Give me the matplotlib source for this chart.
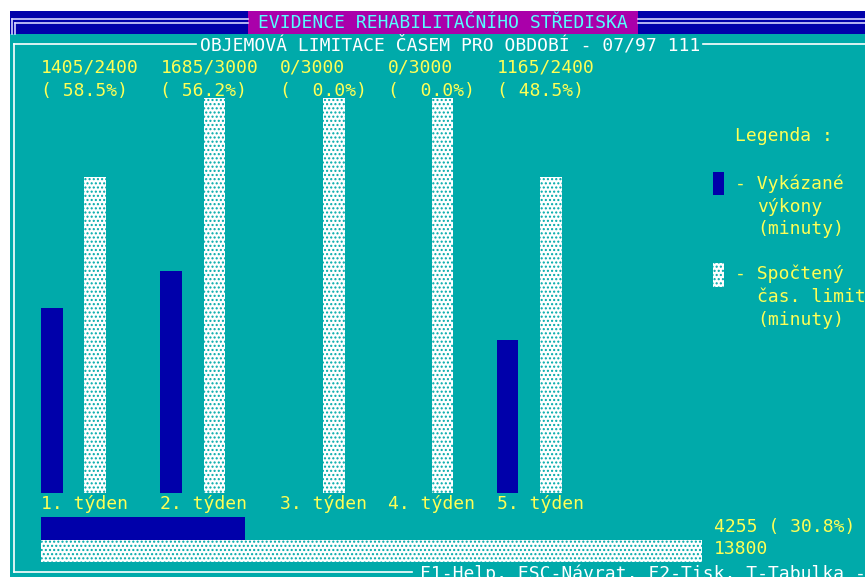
import matplotlib
matplotlib.use("Agg")
import matplotlib.pyplot as plt
from matplotlib.patches import Rectangle
from matplotlib.transforms import blended_transform_factory

# data
weeks = ["1. týden", "2. týden", "3. týden", "4. týden", "5. týden"]
done_min = [1405, 1685, 0, 0, 1165]      # vykázané výkony (minuty)
limit_min = [2400, 3000, 3000, 3000, 2400]  # spočtený čas. limit (minuty)

# text-mode layout (columns of the 80x25 screen)
group_cols = [0, 11, 22, 32, 42]

TEAL = "#00aaaa"
BLUE = "#0000aa"
MAGENTA = "#aa00aa"
YELLOW = "#ffff55"
CYAN = "#55ffff"
WHITE = "#ffffff"
FRAME = "#d4d4ff"

W, H = 865, 577
CW = 10.85     # char cell width in px
X0 = 41        # pixel x of column 0
BASE = 493     # bar baseline (px)
TOP = 98       # where 3000 min reaches (px)

FONT = dict(family="DejaVu Sans Mono", fontsize=13)

fig = plt.figure(figsize=(W / 100, H / 100), dpi=100, facecolor="white")

# background screen, pixel coordinates
bg = fig.add_axes([0, 0, 1, 1])
bg.set_xlim(0, W)
bg.set_ylim(H, 0)
bg.axis("off")

bg.add_patch(Rectangle((10, 11), W - 10, 23, color=BLUE, lw=0))
bg.add_patch(Rectangle((10, 34), W - 10, H - 34, color=TEAL, lw=0))
bg.add_patch(Rectangle((248, 11), 390, 23, color=MAGENTA, lw=0))

lw = 1.2
# double frame on the title row
bg.plot([12, 248], [19, 19], color=FRAME, lw=lw)
bg.plot([15, 248], [22.5, 22.5], color=FRAME, lw=lw)
bg.plot([638, W], [19, 19], color=FRAME, lw=lw)
bg.plot([638, W], [22.5, 22.5], color=FRAME, lw=lw)
bg.plot([12, 12], [19, 34], color=FRAME, lw=lw)
bg.plot([15, 15], [22.5, 34], color=FRAME, lw=lw)

# single frame of the window
bg.plot([14, 196], [44, 44], color=WHITE, lw=lw)
bg.plot([703, W], [44, 44], color=WHITE, lw=lw)
bg.plot([14, 14], [44, 572], color=WHITE, lw=lw)
bg.plot([14, 412], [572, 572], color=WHITE, lw=lw)

bg.text(443, 23, "EVIDENCE REHABILITAČNÍHO STŘEDISKA", color=CYAN,
        ha="center", va="center", **FONT)
bg.text(450, 45, "OBJEMOVÁ LIMITACE ČASEM PRO OBDOBÍ - 07/97 111", color=WHITE,
        ha="center", va="center", **FONT)
bg.text(420, 574, "F1-Help, ESC-Návrat, F2-Tisk, T-Tabulka -", color=WHITE,
        ha="left", va="center", **FONT)

# weekly bars, x in screen columns, y in minutes
ax = fig.add_axes([0, (H - BASE) / H, 1, (BASE - TOP) / H])
ax.set_xlim(-X0 / CW, (W - X0) / CW)
ax.set_ylim(0, 3000)
ax.axis("off")
ax.patch.set_alpha(0)

ax.bar(group_cols, done_min, width=2, align="edge", color=BLUE, lw=0)
ax.bar([c + 4 for c in group_cols], limit_min, width=2, align="edge",
       facecolor=WHITE, edgecolor=TEAL, hatch="....", lw=0)

tr = blended_transform_factory(ax.transData, bg.transData)
for c, name, d, lim in zip(group_cols, weeks, done_min, limit_min):
    bg.text(c, 68, "%d/%d" % (d, lim), transform=tr, color=YELLOW,
            ha="left", va="center", **FONT)
    bg.text(c, 91, "(%5.1f%%)" % (100.0 * d / lim), transform=tr, color=YELLOW,
            ha="left", va="center", **FONT)
    bg.text(c, 504, name, transform=tr, color=YELLOW,
            ha="left", va="center", **FONT)

# totals
total_done = sum(done_min)
total_limit = sum(limit_min)
tax = fig.add_axes([X0 / W, (H - 562) / H, 661 / W, 45 / H])
tax.set_xlim(0, total_limit)
tax.set_ylim(1.5, -0.5)
tax.axis("off")
tax.patch.set_alpha(0)
tax.barh([0], [total_done], height=1, color=BLUE, lw=0)
tax.barh([1], [total_limit], height=1, facecolor=WHITE, edgecolor=TEAL,
         hatch="....", lw=0)

bg.text(714, 527, "%d (%5.1f%%)" % (total_done, 100.0 * total_done / total_limit),
        color=YELLOW, ha="left", va="center", **FONT)
bg.text(714, 549, "%d" % total_limit, color=YELLOW, ha="left", va="center", **FONT)

# legend
bg.text(735, 136, "Legenda :", color=YELLOW, ha="left", va="center", **FONT)
bg.add_patch(Rectangle((713, 172), 11, 23, facecolor=BLUE, lw=0))
bg.text(735, 184, "- Vykázané", color=YELLOW, ha="left", va="center", **FONT)
bg.text(757, 207, "výkony", color=YELLOW, ha="left", va="center", **FONT)
bg.text(757, 229, "(minuty)", color=YELLOW, ha="left", va="center", **FONT)
bg.add_patch(Rectangle((713, 263), 11, 24, facecolor=WHITE, edgecolor=TEAL,
                       hatch="....", lw=0))
bg.text(735, 274, "- Spočtený", color=YELLOW, ha="left", va="center", **FONT)
bg.text(757, 297, "čas. limit", color=YELLOW, ha="left", va="center", **FONT)
bg.text(757, 320, "(minuty)", color=YELLOW, ha="left", va="center", **FONT)

fig.savefig("out.png", dpi=100, facecolor="white")
